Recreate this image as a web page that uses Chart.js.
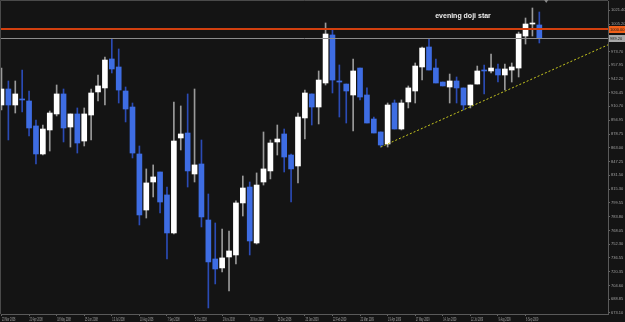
<!DOCTYPE html>
<html>
<head>
<meta charset="utf-8">
<script src="https://cdn.jsdelivr.net/npm/chart.js@4.4.1/dist/chart.umd.min.js"></script>
<style>
html, body { margin: 0; padding: 0; background: #141414; }
canvas { display: block; }
</style>
</head>
<body>
<canvas id="chart" width="625" height="322"></canvas>
<script>
// Weekly candles, 23 Mar 2008 .. 20 Sep 2009
const opens = [912.2, 930.6, 912.2, 919.1, 916.8, 888.1, 855.9, 883.5, 901.9, 924.9,
  886.9, 901.9, 870.8, 900.7, 927.2, 931.8, 965.1, 955.9, 928.3, 909.9,
  855.9, 791.5, 823.7, 835.2, 808.8, 765.1, 874.3, 880.0, 832.9, 844.4,
  780.0, 735.2, 724.9, 737.5, 739.8, 799.6, 817.9, 753.6, 823.7, 836.4,
  869.7, 878.9, 854.7, 842.1, 897.3, 924.9, 909.9, 937.5, 992.7, 939.8,
  936.3, 923.7, 954.7, 923.7, 896.1, 881.2, 867.4, 914.5, 884.6, 915.7,
  928.3, 955.9, 978.9, 954.7, 938.6, 932.9, 939.8, 931.8, 912.2, 936.3,
  951.6, 951.3, 953.6, 946.7, 952.4, 954.7, 991.5, 1005.3, 1004.2];
const highs = [954.7, 939.8, 939.8, 952.4, 928.3, 895.0, 889.2, 905.3, 935.2, 930.6,
  901.9, 908.8, 908.8, 930.6, 946.7, 967.4, 988.1, 976.6, 932.9, 914.5,
  865.1, 838.7, 843.3, 835.2, 817.9, 915.7, 911.1, 924.9, 930.6, 872.0,
  809.9, 776.6, 769.7, 767.4, 801.9, 830.6, 823.7, 834.1, 881.2, 872.0,
  889.2, 884.6, 855.9, 903.0, 929.4, 924.9, 951.3, 1006.5, 998.4, 958.2,
  936.3, 965.1, 954.7, 931.8, 898.4, 881.2, 914.5, 918.0, 918.0, 934.1,
  960.5, 978.9, 988.1, 965.1, 938.6, 947.8, 944.4, 931.8, 935.2, 957.0,
  958.2, 970.8, 959.3, 959.3, 960.5, 996.1, 1012.2, 1023.7, 1019.1];
const lows = [906.5, 872.0, 903.0, 904.2, 876.6, 844.4, 854.7, 859.3, 899.6, 869.7,
  863.9, 857.0, 865.1, 872.0, 916.8, 912.2, 949.0, 914.5, 892.7, 851.3,
  774.3, 782.3, 806.5, 788.1, 735.2, 763.9, 860.5, 817.9, 823.7, 772.0,
  678.9, 706.5, 720.3, 698.4, 729.5, 784.6, 739.8, 752.4, 820.2, 827.2,
  854.7, 835.2, 800.7, 822.6, 873.1, 889.2, 890.4, 935.2, 926.0, 898.4,
  891.5, 882.3, 918.0, 891.5, 880.0, 863.9, 863.9, 884.6, 883.5, 908.8,
  914.5, 940.9, 952.4, 937.5, 934.1, 914.5, 914.5, 906.5, 908.8, 936.3,
  924.9, 949.0, 938.6, 929.4, 938.6, 944.4, 982.3, 991.5, 983.5];
const closes = [930.6, 912.2, 924.9, 918.0, 885.8, 855.9, 884.6, 903.0, 924.9, 885.8,
  901.9, 868.5, 901.9, 926.0, 934.1, 963.9, 953.6, 929.4, 907.6, 857.0,
  785.8, 822.6, 829.5, 800.7, 765.1, 870.8, 878.9, 836.4, 843.3, 783.5,
  731.8, 723.7, 736.4, 744.4, 799.6, 816.8, 755.9, 820.2, 838.7, 868.5,
  873.1, 852.4, 838.7, 898.4, 926.0, 909.9, 940.9, 993.8, 940.9, 938.6,
  928.3, 951.3, 921.4, 891.5, 880.0, 866.2, 912.2, 884.6, 914.5, 931.8,
  957.0, 977.7, 952.4, 937.5, 934.1, 939.8, 931.8, 912.2, 935.2, 951.3,
  951.3, 954.7, 946.7, 953.6, 955.9, 993.8, 1005.3, 1005.6, 989.2];

// x axis: a label every 4 weeks
const xTickIndex = [0, 4, 8, 12, 16, 20, 24, 28, 32, 36, 40, 44, 48, 52, 56, 60, 64, 68, 72, 76];
const xTickLabels = ['23 Mar 2008', '20 Apr 2008', '18 May 2008', '15 Jun 2008', '13 Jul 2008',
  '10 Aug 2008', '7 Sep 2008', '5 Oct 2008', '2 Nov 2008', '30 Nov 2008', '28 Dec 2008',
  '25 Jan 2009', '22 Feb 2009', '22 Mar 2009', '19 Apr 2009', '17 May 2009', '14 Jun 2009',
  '12 Jul 2009', '9 Aug 2009', '6 Sep 2009'];

// price axis labels
const yTickValues = [1021.40, 1005.20, 973.70, 957.95, 942.20, 926.45, 910.70, 894.95,
  878.75, 863.00, 847.25, 831.50, 815.30, 799.55, 783.80, 768.05, 752.30, 736.55,
  720.35, 704.60, 688.85, 673.10];

// support trend line (two anchor points) and horizontal levels
const trendX = [55, 88];
const trendY = [863.9, 981.5];
const levelValues = [1000.00, 989.20];
const levelColors = ['#d2400f', '#8c8c8c'];
const levelBoxColors = ['#f0601a', '#a8a8a8'];

const note = { text: 'evening doji star', x: 62.9, y: 1014.5 };

const isBull = i => closes[i] >= opens[i];
const labelFont = "'Liberation Sans', Arial, sans-serif";
const noPad = s => { s.paddingTop = 0; s.paddingBottom = 0; s.paddingLeft = 0; s.paddingRight = 0; };

const deco = {
    id: 'deco',
    beforeDraw(chart) {
        const ctx = chart.ctx;
        ctx.save();
        ctx.fillStyle = '#141414';
        ctx.fillRect(0, 0, chart.width, chart.height);
        ctx.restore();
    },
    afterDatasetsDraw(chart) {
        const ctx = chart.ctx, a = chart.chartArea, y = chart.scales.y;
        ctx.save();
        levelValues.forEach((v, i) => {
            const py = Math.round(y.getPixelForValue(v));
            ctx.strokeStyle = levelColors[i];
            ctx.lineWidth = i === 0 ? 2 : 1;
            ctx.beginPath();
            ctx.moveTo(a.left, py + (i === 0 ? 0 : 0.5));
            ctx.lineTo(a.right, py + (i === 0 ? 0 : 0.5));
            ctx.stroke();
        });
        ctx.restore();
    },
    afterDraw(chart) {
        const ctx = chart.ctx, a = chart.chartArea, x = chart.scales.x, y = chart.scales.y;
        ctx.save();
        // plot frame
        ctx.strokeStyle = '#4a4a4a';
        ctx.lineWidth = 1;
        ctx.beginPath();
        ctx.moveTo(0.5, a.bottom);
        ctx.lineTo(0.5, 0.5);
        ctx.lineTo(a.right, 0.5);
        ctx.stroke();
        // date labels, squeezed like the terminal's tiny font
        ctx.fillStyle = '#a0a0a0';
        ctx.font = '4.5px ' + labelFont;
        ctx.textBaseline = 'alphabetic';
        ctx.textAlign = 'left';
        xTickIndex.forEach((v, i) => {
            ctx.save();
            ctx.translate(x.getPixelForValue(v) + 0.5, 320.5);
            ctx.scale(0.53, 1);
            ctx.fillText(xTickLabels[i], 0, 0);
            ctx.restore();
        });
        // level boxes on the price axis
        levelValues.forEach((v, i) => {
            const py = Math.round(y.getPixelForValue(v));
            ctx.fillStyle = levelBoxColors[i];
            ctx.fillRect(a.right + 1, py - 3, chart.width - a.right - 1, 7);
            ctx.fillStyle = '#1a1a1a';
            ctx.font = '4px ' + labelFont;
            ctx.textBaseline = 'middle';
            ctx.textAlign = 'left';
            ctx.fillText(v.toFixed(2), a.right + 2, py + 0.5);
        });
        // annotation
        ctx.fillStyle = '#eeeeee';
        ctx.font = 'bold 7px ' + labelFont;
        ctx.textBaseline = 'middle';
        ctx.textAlign = 'left';
        ctx.fillText(note.text, x.getPixelForValue(note.x), y.getPixelForValue(note.y));
        // shift marker
        const mx = x.getPixelForValue(79);
        ctx.fillStyle = '#8a8a8a';
        ctx.beginPath();
        ctx.moveTo(mx - 2, 0);
        ctx.lineTo(mx + 2, 0);
        ctx.lineTo(mx, 3);
        ctx.closePath();
        ctx.fill();
        ctx.restore();
    }
};

new Chart(document.getElementById('chart'), {
    type: 'bar',
    data: {
        datasets: [
            {
                label: 'body',
                data: opens.map((o, i) => ({ x: i, y: [o, closes[i]] })),
                barThickness: 5,
                minBarLength: 1,
                grouped: false,
                order: 1,
                backgroundColor: c => isBull(c.dataIndex) ? '#ffffff' : '#3e6de3'
            },
            {
                label: 'wick',
                data: lows.map((l, i) => ({ x: i, y: [l, highs[i]] })),
                barThickness: 1,
                grouped: false,
                order: 2,
                backgroundColor: c => isBull(c.dataIndex) ? '#9a9a9a' : '#2b4bb5'
            },
            {
                type: 'line',
                label: 'trend',
                data: trendX.map((v, i) => ({ x: v, y: trendY[i] })),
                borderColor: '#c8c81e',
                borderWidth: 1,
                borderDash: [2, 2],
                pointRadius: 0,
                order: 0
            }
        ]
    },
    options: {
        responsive: false,
        animation: false,
        devicePixelRatio: 1,
        layout: { padding: { left: 1, top: 1, right: 0, bottom: 0 } },
        plugins: { legend: { display: false }, tooltip: { enabled: false } },
        scales: {
            x: {
                type: 'linear',
                offset: false,
                min: -0.07,
                max: 87.96,
                grid: { offset: false, drawOnChartArea: false, color: '#666', tickLength: 2 },
                border: { color: '#5a5a5a' },
                afterBuildTicks: s => { s.ticks = xTickIndex.map(v => ({ value: v })); },
                afterFit: s => { s.height = 8; noPad(s); },
                ticks: { display: false, autoSkip: false, maxRotation: 0 }
            },
            y: {
                position: 'right',
                min: 671.95,
                max: 1031.75,
                grid: { drawOnChartArea: false, color: '#666', tickLength: 2 },
                border: { color: '#5a5a5a' },
                afterBuildTicks: s => { s.ticks = yTickValues.map(v => ({ value: v })); },
                afterFit: s => { s.width = 17; noPad(s); },
                ticks: {
                    padding: 1,
                    color: '#a0a0a0',
                    font: { family: labelFont, size: 4 },
                    callback: v => v.toFixed(2)
                }
            }
        }
    },
    plugins: [deco]
});
</script>
</body>
</html>
